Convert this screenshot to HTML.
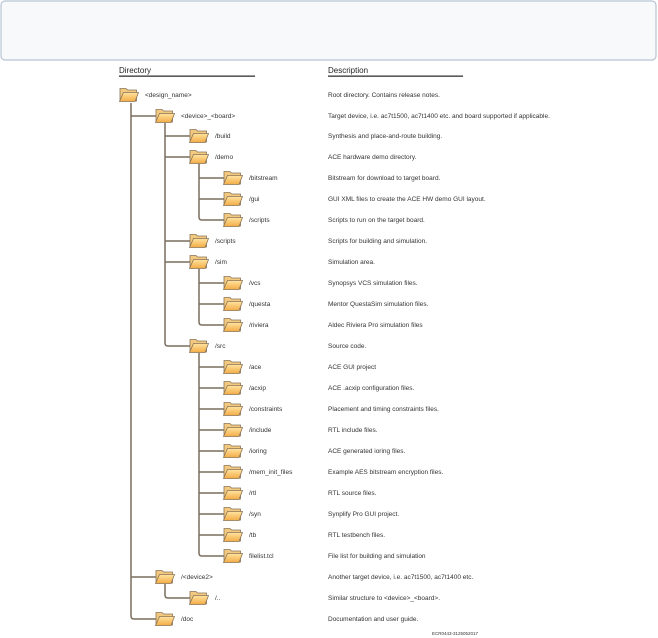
<!DOCTYPE html>
<html><head><meta charset="utf-8"><style>
html,body{margin:0;padding:0;background:#fff;width:658px;height:638px;overflow:hidden}
svg{display:block}
text{font-family:"Liberation Sans Narrow","Liberation Sans",sans-serif;fill:#333;font-size:6.5px}
.h{font-size:8px;fill:#222}
</style></head><body>
<svg width="658" height="638" viewBox="0 0 658 638">
<defs>
<linearGradient id="g" x1="0" y1="0" x2="0" y2="1"><stop offset="0" stop-color="#ffe3a0"/><stop offset="1" stop-color="#f3ac44"/></linearGradient>
<symbol id="f" viewBox="0 0 20 15" width="20" height="15">
<path d="M1,1.5 h6 l1.5,1.5 h9 v11 h-16.5z" fill="#f2c97e" stroke="#8a7458" stroke-width="0.8"/>
<path d="M4.5,5.5 h15 l-3.5,9 h-15.5z" fill="url(#g)" stroke="#8a7458" stroke-width="0.8"/>
</symbol>
</defs>
<rect x="1" y="1" width="655" height="59" rx="4" fill="#f8f9fb" stroke="#b8c4d2" stroke-width="1.2"/>
<text class="h" x="119" y="73">Directory</text>
<rect x="119" y="75.5" width="136" height="1.3" fill="#333"/>
<text class="h" x="328" y="73">Description</text>
<rect x="328" y="75.5" width="135" height="1.3" fill="#333"/>
<g fill="none" stroke="#7a6e5e" stroke-width="1.5">
<path d="M131,103 V616 Q131,619 134,619 H156 M131,116 H156 M131,577 H156"/>
<path d="M165,123 V343 Q165,346 168,346 H190 M165,136 H190 M165,157 H190 M165,241 H190 M165,262 H190"/>
<path d="M199,164 V217 Q199,220 202,220 H224 M199,178 H224 M199,199 H224"/>
<path d="M199,269 V322 Q199,325 202,325 H224 M199,283 H224 M199,304 H224"/>
<path d="M199,353 V553 Q199,556 202,556 H224 M199,367 H224 M199,388 H224 M199,409 H224 M199,430 H224 M199,451 H224 M199,472 H224 M199,493 H224 M199,514 H224 M199,535 H224"/>
<path d="M165,584 V595 Q165,598 168,598 H190"/>
</g>
<g>
<use href="#f" x="119" y="87"/>
<use href="#f" x="155" y="108"/>
<use href="#f" x="189" y="128"/>
<use href="#f" x="189" y="149"/>
<use href="#f" x="223" y="170"/>
<use href="#f" x="223" y="191"/>
<use href="#f" x="223" y="212"/>
<use href="#f" x="189" y="233"/>
<use href="#f" x="189" y="254"/>
<use href="#f" x="223" y="275"/>
<use href="#f" x="223" y="296"/>
<use href="#f" x="223" y="317"/>
<use href="#f" x="189" y="338"/>
<use href="#f" x="223" y="359"/>
<use href="#f" x="223" y="380"/>
<use href="#f" x="223" y="401"/>
<use href="#f" x="223" y="422"/>
<use href="#f" x="223" y="443"/>
<use href="#f" x="223" y="464"/>
<use href="#f" x="223" y="485"/>
<use href="#f" x="223" y="506"/>
<use href="#f" x="223" y="527"/>
<use href="#f" x="223" y="548"/>
<use href="#f" x="155" y="569"/>
<use href="#f" x="189" y="590"/>
<use href="#f" x="155" y="611"/>
</g>
<g>
<text x="145" y="97">&lt;design_name&gt;</text>
<text x="181" y="118">&lt;device&gt;_&lt;board&gt;</text>
<text x="215" y="138">/build</text>
<text x="215" y="159">/demo</text>
<text x="249" y="180">/bitstream</text>
<text x="249" y="201">/gui</text>
<text x="249" y="222">/scripts</text>
<text x="215" y="243">/scripts</text>
<text x="215" y="264">/sim</text>
<text x="249" y="285">/vcs</text>
<text x="249" y="306">/questa</text>
<text x="249" y="327">/riviera</text>
<text x="215" y="348">/src</text>
<text x="249" y="369">/ace</text>
<text x="249" y="390">/acxip</text>
<text x="249" y="411">/constraints</text>
<text x="249" y="432">/include</text>
<text x="249" y="453">/ioring</text>
<text x="249" y="474">/mem_init_files</text>
<text x="249" y="495">/rtl</text>
<text x="249" y="516">/syn</text>
<text x="249" y="537">/tb</text>
<text x="249" y="558">filelist.tcl</text>
<text x="181" y="579">/&lt;device2&gt;</text>
<text x="215" y="600">/..</text>
<text x="181" y="621">/doc</text>
</g>
<g>
<text x="328" y="97">Root directory. Contains release notes.</text>
<text x="328" y="118">Target device, i.e. ac7t1500, ac7t1400 etc. and board supported if applicable.</text>
<text x="328" y="138">Synthesis and place-and-route building.</text>
<text x="328" y="159">ACE hardware demo directory.</text>
<text x="328" y="180">Bitstream for download to target board.</text>
<text x="328" y="201">GUI XML files to create the ACE HW demo GUI layout.</text>
<text x="328" y="222">Scripts to run on the target board.</text>
<text x="328" y="243">Scripts for building and simulation.</text>
<text x="328" y="264">Simulation area.</text>
<text x="328" y="285">Synopsys VCS simulation files.</text>
<text x="328" y="306">Mentor QuestaSim simulation files.</text>
<text x="328" y="327">Aldec Riviera Pro simulation files</text>
<text x="328" y="348">Source code.</text>
<text x="328" y="369">ACE GUI project</text>
<text x="328" y="390">ACE .acxip configuration files.</text>
<text x="328" y="411">Placement and timing constraints files.</text>
<text x="328" y="432">RTL include files.</text>
<text x="328" y="453">ACE generated ioring files.</text>
<text x="328" y="474">Example AES bitstream encryption files.</text>
<text x="328" y="495">RTL source files.</text>
<text x="328" y="516">Synplify Pro GUI project.</text>
<text x="328" y="537">RTL testbench files.</text>
<text x="328" y="558">File list for building and simulation</text>
<text x="328" y="579">Another target device, i.e. ac7t1500, ac7t1400 etc.</text>
<text x="328" y="600">Similar structure to &lt;device&gt;_&lt;board&gt;.</text>
<text x="328" y="621">Documentation and user guide.</text>
<text x="432" y="635" style="font-size:4.5px">ECR0443-3125052017</text>
</g>
</svg>
</body></html>
